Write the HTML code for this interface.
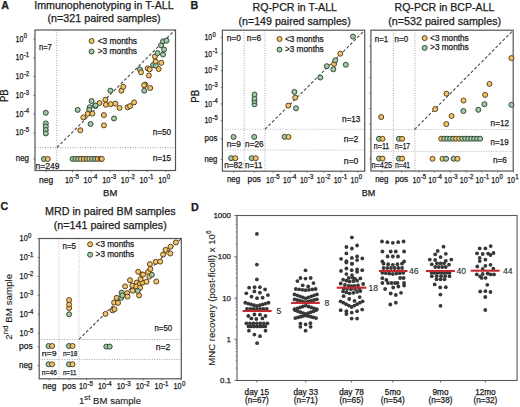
<!DOCTYPE html>
<html><head><meta charset="utf-8"><style>
html,body{margin:0;padding:0;background:#fff;}
svg{display:block;}
text{font-family:"Liberation Sans",sans-serif;fill:#1a1a1a;stroke:#1a1a1a;stroke-width:0.25px;}
</style></head><body>
<svg width="520" height="407" viewBox="0 0 520 407">
<rect width="520" height="407" fill="#fff"/>
<text x="1.30" y="8.90" font-size="10.7" font-weight="bold" fill="#000">A</text>
<text x="34.20" y="8.70" font-size="10.7" textLength="139.50" lengthAdjust="spacingAndGlyphs">Immunophenotyping in T-ALL</text>
<text x="47.50" y="22.30" font-size="10.7" textLength="113.10" lengthAdjust="spacingAndGlyphs">(n=321 paired samples)</text>
<line x1="56.80" y1="30.00" x2="56.80" y2="170.50" stroke="#999999" stroke-width="0.9" stroke-dasharray="1,1.5"/>
<line x1="35.00" y1="147.60" x2="175.50" y2="147.60" stroke="#999999" stroke-width="0.9" stroke-dasharray="1,1.5"/>
<line x1="57.00" y1="147.50" x2="175.00" y2="30.00" stroke="#4a4a4a" stroke-width="1.1" stroke-dasharray="3,2"/>
<rect x="35.00" y="30.00" width="140.50" height="140.50" fill="none" stroke="#555555" stroke-width="1.2"/>
<line x1="33.40" y1="39.10" x2="35.00" y2="39.10" stroke="#555555" stroke-width="0.8"/>
<text x="15.60" y="41.60" font-size="8.6" textLength="7.90" lengthAdjust="spacingAndGlyphs">10</text>
<text x="23.80" y="38.30" font-size="6.8" textLength="3.33" lengthAdjust="spacingAndGlyphs">0</text>
<line x1="33.40" y1="57.86" x2="35.00" y2="57.86" stroke="#555555" stroke-width="0.8"/>
<text x="15.60" y="60.36" font-size="8.6" textLength="7.90" lengthAdjust="spacingAndGlyphs">10</text>
<text x="23.80" y="57.06" font-size="6.8" textLength="5.32" lengthAdjust="spacingAndGlyphs">-1</text>
<line x1="33.40" y1="76.62" x2="35.00" y2="76.62" stroke="#555555" stroke-width="0.8"/>
<text x="15.60" y="79.12" font-size="8.6" textLength="7.90" lengthAdjust="spacingAndGlyphs">10</text>
<text x="23.80" y="75.82" font-size="6.8" textLength="5.32" lengthAdjust="spacingAndGlyphs">-2</text>
<line x1="33.40" y1="95.38" x2="35.00" y2="95.38" stroke="#555555" stroke-width="0.8"/>
<text x="15.60" y="97.88" font-size="8.6" textLength="7.90" lengthAdjust="spacingAndGlyphs">10</text>
<text x="23.80" y="94.58" font-size="6.8" textLength="5.32" lengthAdjust="spacingAndGlyphs">-3</text>
<line x1="33.40" y1="114.14" x2="35.00" y2="114.14" stroke="#555555" stroke-width="0.8"/>
<text x="15.60" y="116.64" font-size="8.6" textLength="7.90" lengthAdjust="spacingAndGlyphs">10</text>
<text x="23.80" y="113.34" font-size="6.8" textLength="5.32" lengthAdjust="spacingAndGlyphs">-4</text>
<line x1="33.40" y1="132.90" x2="35.00" y2="132.90" stroke="#555555" stroke-width="0.8"/>
<text x="15.60" y="135.40" font-size="8.6" textLength="7.90" lengthAdjust="spacingAndGlyphs">10</text>
<text x="23.80" y="132.10" font-size="6.8" textLength="5.32" lengthAdjust="spacingAndGlyphs">-5</text>
<line x1="33.40" y1="159.00" x2="35.00" y2="159.00" stroke="#555555" stroke-width="0.8"/>
<text x="15.80" y="160.70" font-size="8.6" textLength="13.20" lengthAdjust="spacingAndGlyphs">neg</text>
<line x1="72.50" y1="170.50" x2="72.50" y2="172.10" stroke="#555555" stroke-width="0.8"/>
<text x="64.90" y="182.70" font-size="8.6" textLength="8.20" lengthAdjust="spacingAndGlyphs">10</text>
<text x="73.40" y="179.30" font-size="7.0" textLength="5.48" lengthAdjust="spacingAndGlyphs">-5</text>
<line x1="91.15" y1="170.50" x2="91.15" y2="172.10" stroke="#555555" stroke-width="0.8"/>
<text x="83.55" y="182.70" font-size="8.6" textLength="8.20" lengthAdjust="spacingAndGlyphs">10</text>
<text x="92.05" y="179.30" font-size="7.0" textLength="5.48" lengthAdjust="spacingAndGlyphs">-4</text>
<line x1="109.80" y1="170.50" x2="109.80" y2="172.10" stroke="#555555" stroke-width="0.8"/>
<text x="102.20" y="182.70" font-size="8.6" textLength="8.20" lengthAdjust="spacingAndGlyphs">10</text>
<text x="110.70" y="179.30" font-size="7.0" textLength="5.48" lengthAdjust="spacingAndGlyphs">-3</text>
<line x1="128.45" y1="170.50" x2="128.45" y2="172.10" stroke="#555555" stroke-width="0.8"/>
<text x="120.85" y="182.70" font-size="8.6" textLength="8.20" lengthAdjust="spacingAndGlyphs">10</text>
<text x="129.35" y="179.30" font-size="7.0" textLength="5.48" lengthAdjust="spacingAndGlyphs">-2</text>
<line x1="147.10" y1="170.50" x2="147.10" y2="172.10" stroke="#555555" stroke-width="0.8"/>
<text x="139.50" y="182.70" font-size="8.6" textLength="8.20" lengthAdjust="spacingAndGlyphs">10</text>
<text x="148.00" y="179.30" font-size="7.0" textLength="5.48" lengthAdjust="spacingAndGlyphs">-1</text>
<line x1="165.75" y1="170.50" x2="165.75" y2="172.10" stroke="#555555" stroke-width="0.8"/>
<text x="158.15" y="182.70" font-size="8.6" textLength="8.20" lengthAdjust="spacingAndGlyphs">10</text>
<text x="166.65" y="179.30" font-size="7.0" textLength="3.43" lengthAdjust="spacingAndGlyphs">0</text>
<line x1="46.00" y1="170.50" x2="46.00" y2="172.10" stroke="#555555" stroke-width="0.8"/>
<text x="46.10" y="182.60" font-size="8.6" text-anchor="middle" textLength="14.00" lengthAdjust="spacingAndGlyphs">neg</text>
<text x="8.00" y="95.70" font-size="10.0" text-anchor="middle" textLength="12.80" lengthAdjust="spacingAndGlyphs" transform="rotate(-90 8.00 95.70)">PB</text>
<text x="110.20" y="196.20" font-size="9.5" text-anchor="middle" textLength="14.20" lengthAdjust="spacingAndGlyphs">BM</text>
<text x="39.00" y="49.60" font-size="8.6" textLength="12.80" lengthAdjust="spacingAndGlyphs">n=7</text>
<text x="35.40" y="169.30" font-size="8.6" textLength="24.00" lengthAdjust="spacingAndGlyphs">n=249</text>
<text x="152.70" y="135.10" font-size="8.6" textLength="18.50" lengthAdjust="spacingAndGlyphs">n=50</text>
<text x="152.70" y="160.90" font-size="8.6" textLength="18.50" lengthAdjust="spacingAndGlyphs">n=15</text>
<circle cx="91.60" cy="41.00" r="2.5" fill="#EEC56C" stroke="#553A16" stroke-width="0.95"/>
<circle cx="91.60" cy="51.60" r="2.5" fill="#A4C7A6" stroke="#2A4430" stroke-width="0.95"/>
<text x="97.70" y="43.60" font-size="8.6" textLength="39.30" lengthAdjust="spacingAndGlyphs">&lt;3 months</text>
<text x="97.70" y="54.20" font-size="8.6" textLength="39.30" lengthAdjust="spacingAndGlyphs">&gt;3 months</text>
<text x="190.50" y="8.90" font-size="10.7" font-weight="bold" fill="#000">B</text>
<text x="252.50" y="11.30" font-size="10.7" textLength="84.50" lengthAdjust="spacingAndGlyphs">RQ-PCR in T-ALL</text>
<text x="238.50" y="25.10" font-size="10.7" textLength="112.20" lengthAdjust="spacingAndGlyphs">(n=149 paired samples)</text>
<line x1="244.20" y1="30.20" x2="244.20" y2="171.20" stroke="#999999" stroke-width="0.9" stroke-dasharray="1,1.5"/>
<line x1="265.00" y1="30.20" x2="265.00" y2="171.20" stroke="#999999" stroke-width="0.9" stroke-dasharray="1,1.5"/>
<line x1="222.40" y1="129.30" x2="364.70" y2="129.30" stroke="#b0b0b0" stroke-width="0.9" stroke-dasharray="1,1.5"/>
<line x1="222.40" y1="150.00" x2="364.70" y2="150.00" stroke="#b0b0b0" stroke-width="0.9" stroke-dasharray="1,1.5"/>
<line x1="265.00" y1="129.30" x2="364.50" y2="30.50" stroke="#4a4a4a" stroke-width="1.1" stroke-dasharray="3,2"/>
<rect x="222.40" y="30.20" width="142.30" height="141.00" fill="none" stroke="#555555" stroke-width="1.2"/>
<line x1="220.80" y1="37.40" x2="222.40" y2="37.40" stroke="#555555" stroke-width="0.8"/>
<text x="204.50" y="39.90" font-size="8.4" textLength="7.70" lengthAdjust="spacingAndGlyphs">10</text>
<text x="212.50" y="36.60" font-size="6.6" textLength="3.23" lengthAdjust="spacingAndGlyphs">0</text>
<line x1="220.80" y1="54.05" x2="222.40" y2="54.05" stroke="#555555" stroke-width="0.8"/>
<text x="204.50" y="56.55" font-size="8.4" textLength="7.70" lengthAdjust="spacingAndGlyphs">10</text>
<text x="212.50" y="53.25" font-size="6.6" textLength="5.16" lengthAdjust="spacingAndGlyphs">-1</text>
<line x1="220.80" y1="70.70" x2="222.40" y2="70.70" stroke="#555555" stroke-width="0.8"/>
<text x="204.50" y="73.20" font-size="8.4" textLength="7.70" lengthAdjust="spacingAndGlyphs">10</text>
<text x="212.50" y="69.90" font-size="6.6" textLength="5.16" lengthAdjust="spacingAndGlyphs">-2</text>
<line x1="220.80" y1="87.35" x2="222.40" y2="87.35" stroke="#555555" stroke-width="0.8"/>
<text x="204.50" y="89.85" font-size="8.4" textLength="7.70" lengthAdjust="spacingAndGlyphs">10</text>
<text x="212.50" y="86.55" font-size="6.6" textLength="5.16" lengthAdjust="spacingAndGlyphs">-3</text>
<line x1="220.80" y1="104.00" x2="222.40" y2="104.00" stroke="#555555" stroke-width="0.8"/>
<text x="204.50" y="106.50" font-size="8.4" textLength="7.70" lengthAdjust="spacingAndGlyphs">10</text>
<text x="212.50" y="103.20" font-size="6.6" textLength="5.16" lengthAdjust="spacingAndGlyphs">-4</text>
<line x1="220.80" y1="120.65" x2="222.40" y2="120.65" stroke="#555555" stroke-width="0.8"/>
<text x="204.50" y="123.15" font-size="8.4" textLength="7.70" lengthAdjust="spacingAndGlyphs">10</text>
<text x="212.50" y="119.85" font-size="6.6" textLength="5.16" lengthAdjust="spacingAndGlyphs">-5</text>
<line x1="220.80" y1="138.80" x2="222.40" y2="138.80" stroke="#555555" stroke-width="0.8"/>
<text x="204.60" y="141.00" font-size="8.4" textLength="12.80" lengthAdjust="spacingAndGlyphs">pos</text>
<line x1="220.80" y1="159.50" x2="222.40" y2="159.50" stroke="#555555" stroke-width="0.8"/>
<text x="204.60" y="161.70" font-size="8.4" textLength="12.80" lengthAdjust="spacingAndGlyphs">neg</text>
<line x1="273.30" y1="171.20" x2="273.30" y2="172.80" stroke="#555555" stroke-width="0.8"/>
<text x="266.10" y="182.70" font-size="8.6" textLength="7.80" lengthAdjust="spacingAndGlyphs">10</text>
<text x="274.20" y="179.30" font-size="6.9" textLength="5.40" lengthAdjust="spacingAndGlyphs">-5</text>
<line x1="290.20" y1="171.20" x2="290.20" y2="172.80" stroke="#555555" stroke-width="0.8"/>
<text x="283.00" y="182.70" font-size="8.6" textLength="7.80" lengthAdjust="spacingAndGlyphs">10</text>
<text x="291.10" y="179.30" font-size="6.9" textLength="5.40" lengthAdjust="spacingAndGlyphs">-4</text>
<line x1="307.10" y1="171.20" x2="307.10" y2="172.80" stroke="#555555" stroke-width="0.8"/>
<text x="299.90" y="182.70" font-size="8.6" textLength="7.80" lengthAdjust="spacingAndGlyphs">10</text>
<text x="308.00" y="179.30" font-size="6.9" textLength="5.40" lengthAdjust="spacingAndGlyphs">-3</text>
<line x1="324.00" y1="171.20" x2="324.00" y2="172.80" stroke="#555555" stroke-width="0.8"/>
<text x="316.80" y="182.70" font-size="8.6" textLength="7.80" lengthAdjust="spacingAndGlyphs">10</text>
<text x="324.90" y="179.30" font-size="6.9" textLength="5.40" lengthAdjust="spacingAndGlyphs">-2</text>
<line x1="340.90" y1="171.20" x2="340.90" y2="172.80" stroke="#555555" stroke-width="0.8"/>
<text x="333.70" y="182.70" font-size="8.6" textLength="7.80" lengthAdjust="spacingAndGlyphs">10</text>
<text x="341.80" y="179.30" font-size="6.9" textLength="5.40" lengthAdjust="spacingAndGlyphs">-1</text>
<line x1="357.80" y1="171.20" x2="357.80" y2="172.80" stroke="#555555" stroke-width="0.8"/>
<text x="350.60" y="182.70" font-size="8.6" textLength="7.80" lengthAdjust="spacingAndGlyphs">10</text>
<text x="358.70" y="179.30" font-size="6.9" textLength="3.38" lengthAdjust="spacingAndGlyphs">0</text>
<line x1="233.50" y1="171.20" x2="233.50" y2="172.80" stroke="#555555" stroke-width="0.8"/>
<text x="233.50" y="182.00" font-size="8.4" text-anchor="middle" textLength="13.20" lengthAdjust="spacingAndGlyphs">neg</text>
<line x1="254.20" y1="171.20" x2="254.20" y2="172.80" stroke="#555555" stroke-width="0.8"/>
<text x="254.20" y="182.00" font-size="8.4" text-anchor="middle" textLength="13.20" lengthAdjust="spacingAndGlyphs">pos</text>
<text x="198.70" y="96.30" font-size="10.0" text-anchor="middle" textLength="12.80" lengthAdjust="spacingAndGlyphs" transform="rotate(-90 198.70 96.30)">PB</text>
<text x="226.70" y="40.50" font-size="8.4" textLength="14.30" lengthAdjust="spacingAndGlyphs">n=0</text>
<text x="246.80" y="40.50" font-size="8.4" textLength="14.30" lengthAdjust="spacingAndGlyphs">n=6</text>
<text x="226.70" y="146.70" font-size="8.4" textLength="14.20" lengthAdjust="spacingAndGlyphs">n=9</text>
<text x="245.10" y="146.70" font-size="8.4" textLength="18.40" lengthAdjust="spacingAndGlyphs">n=26</text>
<text x="224.20" y="168.30" font-size="8.4" textLength="18.50" lengthAdjust="spacingAndGlyphs">n=82</text>
<text x="245.10" y="168.30" font-size="8.4" textLength="17.20" lengthAdjust="spacingAndGlyphs">n=11</text>
<text x="341.90" y="121.50" font-size="8.4" textLength="18.30" lengthAdjust="spacingAndGlyphs">n=13</text>
<text x="343.80" y="142.30" font-size="8.4" textLength="14.50" lengthAdjust="spacingAndGlyphs">n=2</text>
<text x="343.80" y="163.50" font-size="8.4" textLength="14.50" lengthAdjust="spacingAndGlyphs">n=0</text>
<circle cx="279.50" cy="39.00" r="2.5" fill="#EEC56C" stroke="#553A16" stroke-width="0.95"/>
<circle cx="279.50" cy="49.60" r="2.5" fill="#A4C7A6" stroke="#2A4430" stroke-width="0.95"/>
<text x="284.90" y="41.50" font-size="8.4" textLength="38.80" lengthAdjust="spacingAndGlyphs">&lt;3 months</text>
<text x="284.90" y="52.10" font-size="8.4" textLength="38.80" lengthAdjust="spacingAndGlyphs">&gt;3 months</text>
<text x="394.50" y="10.90" font-size="10.7" textLength="99.90" lengthAdjust="spacingAndGlyphs">RQ-PCR in BCP-ALL</text>
<text x="388.30" y="24.90" font-size="10.7" textLength="112.80" lengthAdjust="spacingAndGlyphs">(n=532 paired samples)</text>
<line x1="393.30" y1="30.20" x2="393.30" y2="171.00" stroke="#999999" stroke-width="0.9" stroke-dasharray="1,1.5"/>
<line x1="414.90" y1="30.20" x2="414.90" y2="171.00" stroke="#999999" stroke-width="0.9" stroke-dasharray="1,1.5"/>
<line x1="370.90" y1="129.50" x2="513.20" y2="129.50" stroke="#b0b0b0" stroke-width="0.9" stroke-dasharray="1,1.5"/>
<line x1="370.90" y1="151.40" x2="513.20" y2="151.40" stroke="#b0b0b0" stroke-width="0.9" stroke-dasharray="1,1.5"/>
<line x1="414.50" y1="129.50" x2="513.00" y2="30.50" stroke="#4a4a4a" stroke-width="1.1" stroke-dasharray="3,2"/>
<rect x="370.90" y="30.20" width="142.30" height="140.80" fill="none" stroke="#555555" stroke-width="1.2"/>
<line x1="369.30" y1="46.20" x2="370.90" y2="46.20" stroke="#555555" stroke-width="0.8"/>
<line x1="369.30" y1="61.80" x2="370.90" y2="61.80" stroke="#555555" stroke-width="0.8"/>
<line x1="369.30" y1="77.40" x2="370.90" y2="77.40" stroke="#555555" stroke-width="0.8"/>
<line x1="369.30" y1="93.00" x2="370.90" y2="93.00" stroke="#555555" stroke-width="0.8"/>
<line x1="369.30" y1="108.60" x2="370.90" y2="108.60" stroke="#555555" stroke-width="0.8"/>
<line x1="369.30" y1="124.20" x2="370.90" y2="124.20" stroke="#555555" stroke-width="0.8"/>
<line x1="369.30" y1="138.80" x2="370.90" y2="138.80" stroke="#555555" stroke-width="0.8"/>
<line x1="369.30" y1="159.00" x2="370.90" y2="159.00" stroke="#555555" stroke-width="0.8"/>
<line x1="419.00" y1="171.00" x2="419.00" y2="172.60" stroke="#555555" stroke-width="0.8"/>
<text x="412.50" y="182.70" font-size="8.6" textLength="7.90" lengthAdjust="spacingAndGlyphs">10</text>
<text x="420.70" y="179.30" font-size="6.9" textLength="5.40" lengthAdjust="spacingAndGlyphs">-5</text>
<line x1="434.75" y1="171.00" x2="434.75" y2="172.60" stroke="#555555" stroke-width="0.8"/>
<text x="428.25" y="182.70" font-size="8.6" textLength="7.90" lengthAdjust="spacingAndGlyphs">10</text>
<text x="436.45" y="179.30" font-size="6.9" textLength="5.40" lengthAdjust="spacingAndGlyphs">-4</text>
<line x1="450.50" y1="171.00" x2="450.50" y2="172.60" stroke="#555555" stroke-width="0.8"/>
<text x="444.00" y="182.70" font-size="8.6" textLength="7.90" lengthAdjust="spacingAndGlyphs">10</text>
<text x="452.20" y="179.30" font-size="6.9" textLength="5.40" lengthAdjust="spacingAndGlyphs">-3</text>
<line x1="466.25" y1="171.00" x2="466.25" y2="172.60" stroke="#555555" stroke-width="0.8"/>
<text x="459.75" y="182.70" font-size="8.6" textLength="7.90" lengthAdjust="spacingAndGlyphs">10</text>
<text x="467.95" y="179.30" font-size="6.9" textLength="5.40" lengthAdjust="spacingAndGlyphs">-2</text>
<line x1="482.00" y1="171.00" x2="482.00" y2="172.60" stroke="#555555" stroke-width="0.8"/>
<text x="475.50" y="182.70" font-size="8.6" textLength="7.90" lengthAdjust="spacingAndGlyphs">10</text>
<text x="483.70" y="179.30" font-size="6.9" textLength="5.40" lengthAdjust="spacingAndGlyphs">-1</text>
<line x1="497.75" y1="171.00" x2="497.75" y2="172.60" stroke="#555555" stroke-width="0.8"/>
<text x="491.25" y="182.70" font-size="8.6" textLength="7.90" lengthAdjust="spacingAndGlyphs">10</text>
<text x="499.45" y="179.30" font-size="6.9" textLength="3.38" lengthAdjust="spacingAndGlyphs">0</text>
<line x1="513.50" y1="171.00" x2="513.50" y2="172.60" stroke="#555555" stroke-width="0.8"/>
<text x="507.00" y="182.70" font-size="8.6" textLength="7.90" lengthAdjust="spacingAndGlyphs">10</text>
<text x="515.20" y="179.30" font-size="6.9" textLength="3.38" lengthAdjust="spacingAndGlyphs">1</text>
<line x1="381.80" y1="171.00" x2="381.80" y2="172.60" stroke="#555555" stroke-width="0.8"/>
<text x="381.80" y="182.00" font-size="8.4" text-anchor="middle" textLength="13.20" lengthAdjust="spacingAndGlyphs">neg</text>
<line x1="401.60" y1="171.00" x2="401.60" y2="172.60" stroke="#555555" stroke-width="0.8"/>
<text x="401.60" y="182.00" font-size="8.4" text-anchor="middle" textLength="13.20" lengthAdjust="spacingAndGlyphs">pos</text>
<text x="368.50" y="196.30" font-size="9.4" text-anchor="middle" textLength="13.50" lengthAdjust="spacingAndGlyphs">BM</text>
<text x="374.80" y="42.40" font-size="8.4" textLength="13.50" lengthAdjust="spacingAndGlyphs">n=1</text>
<text x="394.60" y="42.40" font-size="8.4" textLength="13.50" lengthAdjust="spacingAndGlyphs">n=0</text>
<text x="373.80" y="149.10" font-size="8.4" textLength="15.50" lengthAdjust="spacingAndGlyphs">n=11</text>
<text x="395.00" y="149.10" font-size="8.4" textLength="15.10" lengthAdjust="spacingAndGlyphs">n=17</text>
<text x="371.50" y="168.30" font-size="8.4" textLength="20.50" lengthAdjust="spacingAndGlyphs">n=425</text>
<text x="395.00" y="168.30" font-size="8.4" textLength="15.10" lengthAdjust="spacingAndGlyphs">n=41</text>
<text x="490.60" y="125.70" font-size="8.4" textLength="18.50" lengthAdjust="spacingAndGlyphs">n=12</text>
<text x="490.60" y="144.70" font-size="8.4" textLength="18.00" lengthAdjust="spacingAndGlyphs">n=19</text>
<text x="493.10" y="162.70" font-size="8.4" textLength="13.80" lengthAdjust="spacingAndGlyphs">n=6</text>
<circle cx="424.70" cy="38.10" r="2.5" fill="#EEC56C" stroke="#553A16" stroke-width="0.95"/>
<circle cx="424.70" cy="47.90" r="2.5" fill="#A4C7A6" stroke="#2A4430" stroke-width="0.95"/>
<text x="430.10" y="40.60" font-size="8.4" textLength="38.60" lengthAdjust="spacingAndGlyphs">&lt;3 months</text>
<text x="430.10" y="50.20" font-size="8.4" textLength="38.60" lengthAdjust="spacingAndGlyphs">&gt;3 months</text>
<text x="0.50" y="210.40" font-size="10.7" font-weight="bold" fill="#000">C</text>
<text x="45.10" y="215.10" font-size="10.7" textLength="130.40" lengthAdjust="spacingAndGlyphs">MRD in paired BM samples</text>
<text x="53.70" y="228.90" font-size="10.7" textLength="113.10" lengthAdjust="spacingAndGlyphs">(n=141 paired samples)</text>
<line x1="58.90" y1="238.50" x2="58.90" y2="378.80" stroke="#b4b8c4" stroke-width="0.9" stroke-dasharray="1,1.5"/>
<line x1="78.90" y1="238.50" x2="78.90" y2="378.80" stroke="#b4b8c4" stroke-width="0.9" stroke-dasharray="1,1.5"/>
<line x1="39.20" y1="339.50" x2="181.30" y2="339.50" stroke="#999999" stroke-width="0.9" stroke-dasharray="1,1.5"/>
<line x1="39.20" y1="359.50" x2="181.30" y2="359.50" stroke="#999999" stroke-width="0.9" stroke-dasharray="1,1.5"/>
<line x1="79.00" y1="339.30" x2="181.00" y2="238.80" stroke="#4a4a4a" stroke-width="1.1" stroke-dasharray="3,2"/>
<rect x="39.20" y="238.50" width="142.10" height="140.30" fill="none" stroke="#555555" stroke-width="1.2"/>
<line x1="37.60" y1="238.60" x2="39.20" y2="238.60" stroke="#555555" stroke-width="0.8"/>
<text x="19.60" y="241.40" font-size="8.6" textLength="8.20" lengthAdjust="spacingAndGlyphs">10</text>
<text x="28.10" y="238.10" font-size="6.8" textLength="3.33" lengthAdjust="spacingAndGlyphs">0</text>
<line x1="37.60" y1="257.50" x2="39.20" y2="257.50" stroke="#555555" stroke-width="0.8"/>
<text x="19.60" y="260.30" font-size="8.6" textLength="8.20" lengthAdjust="spacingAndGlyphs">10</text>
<text x="28.10" y="257.00" font-size="6.8" textLength="5.32" lengthAdjust="spacingAndGlyphs">-1</text>
<line x1="37.60" y1="276.40" x2="39.20" y2="276.40" stroke="#555555" stroke-width="0.8"/>
<text x="19.60" y="279.20" font-size="8.6" textLength="8.20" lengthAdjust="spacingAndGlyphs">10</text>
<text x="28.10" y="275.90" font-size="6.8" textLength="5.32" lengthAdjust="spacingAndGlyphs">-2</text>
<line x1="37.60" y1="295.30" x2="39.20" y2="295.30" stroke="#555555" stroke-width="0.8"/>
<text x="19.60" y="298.10" font-size="8.6" textLength="8.20" lengthAdjust="spacingAndGlyphs">10</text>
<text x="28.10" y="294.80" font-size="6.8" textLength="5.32" lengthAdjust="spacingAndGlyphs">-3</text>
<line x1="37.60" y1="314.20" x2="39.20" y2="314.20" stroke="#555555" stroke-width="0.8"/>
<text x="19.60" y="317.00" font-size="8.6" textLength="8.20" lengthAdjust="spacingAndGlyphs">10</text>
<text x="28.10" y="313.70" font-size="6.8" textLength="5.32" lengthAdjust="spacingAndGlyphs">-4</text>
<line x1="37.60" y1="333.10" x2="39.20" y2="333.10" stroke="#555555" stroke-width="0.8"/>
<text x="19.60" y="335.90" font-size="8.6" textLength="8.20" lengthAdjust="spacingAndGlyphs">10</text>
<text x="28.10" y="332.60" font-size="6.8" textLength="5.32" lengthAdjust="spacingAndGlyphs">-5</text>
<line x1="37.60" y1="346.80" x2="39.20" y2="346.80" stroke="#555555" stroke-width="0.8"/>
<text x="19.00" y="349.00" font-size="8.6" textLength="13.60" lengthAdjust="spacingAndGlyphs">pos</text>
<line x1="37.60" y1="365.50" x2="39.20" y2="365.50" stroke="#555555" stroke-width="0.8"/>
<text x="19.00" y="367.70" font-size="8.6" textLength="13.60" lengthAdjust="spacingAndGlyphs">neg</text>
<line x1="86.50" y1="378.80" x2="86.50" y2="380.40" stroke="#555555" stroke-width="0.8"/>
<text x="79.00" y="389.30" font-size="8.6" textLength="8.10" lengthAdjust="spacingAndGlyphs">10</text>
<text x="87.40" y="385.90" font-size="7.0" textLength="5.48" lengthAdjust="spacingAndGlyphs">-5</text>
<line x1="105.40" y1="378.80" x2="105.40" y2="380.40" stroke="#555555" stroke-width="0.8"/>
<text x="97.90" y="389.30" font-size="8.6" textLength="8.10" lengthAdjust="spacingAndGlyphs">10</text>
<text x="106.30" y="385.90" font-size="7.0" textLength="5.48" lengthAdjust="spacingAndGlyphs">-4</text>
<line x1="124.30" y1="378.80" x2="124.30" y2="380.40" stroke="#555555" stroke-width="0.8"/>
<text x="116.80" y="389.30" font-size="8.6" textLength="8.10" lengthAdjust="spacingAndGlyphs">10</text>
<text x="125.20" y="385.90" font-size="7.0" textLength="5.48" lengthAdjust="spacingAndGlyphs">-3</text>
<line x1="143.20" y1="378.80" x2="143.20" y2="380.40" stroke="#555555" stroke-width="0.8"/>
<text x="135.70" y="389.30" font-size="8.6" textLength="8.10" lengthAdjust="spacingAndGlyphs">10</text>
<text x="144.10" y="385.90" font-size="7.0" textLength="5.48" lengthAdjust="spacingAndGlyphs">-2</text>
<line x1="162.10" y1="378.80" x2="162.10" y2="380.40" stroke="#555555" stroke-width="0.8"/>
<text x="154.60" y="389.30" font-size="8.6" textLength="8.10" lengthAdjust="spacingAndGlyphs">10</text>
<text x="163.00" y="385.90" font-size="7.0" textLength="5.48" lengthAdjust="spacingAndGlyphs">-1</text>
<line x1="181.00" y1="378.80" x2="181.00" y2="380.40" stroke="#555555" stroke-width="0.8"/>
<text x="173.50" y="389.30" font-size="8.6" textLength="8.10" lengthAdjust="spacingAndGlyphs">10</text>
<text x="181.90" y="385.90" font-size="7.0" textLength="3.43" lengthAdjust="spacingAndGlyphs">0</text>
<line x1="49.40" y1="378.80" x2="49.40" y2="380.40" stroke="#555555" stroke-width="0.8"/>
<text x="49.40" y="389.10" font-size="8.6" text-anchor="middle" textLength="13.50" lengthAdjust="spacingAndGlyphs">neg</text>
<line x1="69.10" y1="378.80" x2="69.10" y2="380.40" stroke="#555555" stroke-width="0.8"/>
<text x="69.10" y="389.10" font-size="8.6" text-anchor="middle" textLength="13.50" lengthAdjust="spacingAndGlyphs">pos</text>
<text transform="translate(11.9 306.7) rotate(-90)" text-anchor="middle" font-size="9.8" style="stroke-width:0.1px">2<tspan font-size="7.8" dy="-3.8">nd</tspan><tspan dy="3.8"> BM sample</tspan></text>
<text x="79.0" y="403.8" font-size="9.6" style="stroke-width:0.12px">1<tspan font-size="7.8" dy="-3.7">st</tspan><tspan dy="3.7"> BM sample</tspan></text>
<text x="62.50" y="249.10" font-size="8.6" textLength="13.50" lengthAdjust="spacingAndGlyphs">n=5</text>
<text x="41.80" y="355.60" font-size="8.0" textLength="14.70" lengthAdjust="spacingAndGlyphs">n=9</text>
<text x="62.90" y="355.60" font-size="8.0" textLength="14.40" lengthAdjust="spacingAndGlyphs">n=18</text>
<text x="41.80" y="375.00" font-size="8.0" textLength="15.10" lengthAdjust="spacingAndGlyphs">n=46</text>
<text x="62.90" y="375.00" font-size="8.0" textLength="13.60" lengthAdjust="spacingAndGlyphs">n=11</text>
<text x="154.50" y="331.00" font-size="8.6" textLength="17.60" lengthAdjust="spacingAndGlyphs">n=50</text>
<text x="155.80" y="350.00" font-size="8.6" textLength="14.50" lengthAdjust="spacingAndGlyphs">n=2</text>
<circle cx="90.10" cy="244.30" r="2.5" fill="#EEC56C" stroke="#553A16" stroke-width="0.95"/>
<circle cx="90.10" cy="254.70" r="2.5" fill="#A4C7A6" stroke="#2A4430" stroke-width="0.95"/>
<text x="95.60" y="247.00" font-size="8.4" textLength="38.60" lengthAdjust="spacingAndGlyphs">&lt;3 months</text>
<text x="95.60" y="257.00" font-size="8.4" textLength="38.60" lengthAdjust="spacingAndGlyphs">&gt;3 months</text>
<text x="191.10" y="210.60" font-size="10.8" font-weight="bold" fill="#000">D</text>
<rect x="237.00" y="215.50" width="280.10" height="165.00" fill="none" stroke="#5a5a5a" stroke-width="1.1"/>
<line x1="234.40" y1="380.50" x2="237.00" y2="380.50" stroke="#5a5a5a" stroke-width="0.9"/>
<line x1="235.60" y1="368.08" x2="237.00" y2="368.08" stroke="#5a5a5a" stroke-width="0.7"/>
<line x1="235.60" y1="360.82" x2="237.00" y2="360.82" stroke="#5a5a5a" stroke-width="0.7"/>
<line x1="235.60" y1="355.67" x2="237.00" y2="355.67" stroke="#5a5a5a" stroke-width="0.7"/>
<line x1="235.60" y1="351.67" x2="237.00" y2="351.67" stroke="#5a5a5a" stroke-width="0.7"/>
<line x1="235.60" y1="348.40" x2="237.00" y2="348.40" stroke="#5a5a5a" stroke-width="0.7"/>
<line x1="235.60" y1="345.64" x2="237.00" y2="345.64" stroke="#5a5a5a" stroke-width="0.7"/>
<line x1="235.60" y1="343.25" x2="237.00" y2="343.25" stroke="#5a5a5a" stroke-width="0.7"/>
<line x1="235.60" y1="341.14" x2="237.00" y2="341.14" stroke="#5a5a5a" stroke-width="0.7"/>
<line x1="234.40" y1="339.25" x2="237.00" y2="339.25" stroke="#5a5a5a" stroke-width="0.9"/>
<line x1="235.60" y1="326.83" x2="237.00" y2="326.83" stroke="#5a5a5a" stroke-width="0.7"/>
<line x1="235.60" y1="319.57" x2="237.00" y2="319.57" stroke="#5a5a5a" stroke-width="0.7"/>
<line x1="235.60" y1="314.42" x2="237.00" y2="314.42" stroke="#5a5a5a" stroke-width="0.7"/>
<line x1="235.60" y1="310.42" x2="237.00" y2="310.42" stroke="#5a5a5a" stroke-width="0.7"/>
<line x1="235.60" y1="307.15" x2="237.00" y2="307.15" stroke="#5a5a5a" stroke-width="0.7"/>
<line x1="235.60" y1="304.39" x2="237.00" y2="304.39" stroke="#5a5a5a" stroke-width="0.7"/>
<line x1="235.60" y1="302.00" x2="237.00" y2="302.00" stroke="#5a5a5a" stroke-width="0.7"/>
<line x1="235.60" y1="299.89" x2="237.00" y2="299.89" stroke="#5a5a5a" stroke-width="0.7"/>
<line x1="234.40" y1="298.00" x2="237.00" y2="298.00" stroke="#5a5a5a" stroke-width="0.9"/>
<line x1="235.60" y1="285.58" x2="237.00" y2="285.58" stroke="#5a5a5a" stroke-width="0.7"/>
<line x1="235.60" y1="278.32" x2="237.00" y2="278.32" stroke="#5a5a5a" stroke-width="0.7"/>
<line x1="235.60" y1="273.17" x2="237.00" y2="273.17" stroke="#5a5a5a" stroke-width="0.7"/>
<line x1="235.60" y1="269.17" x2="237.00" y2="269.17" stroke="#5a5a5a" stroke-width="0.7"/>
<line x1="235.60" y1="265.90" x2="237.00" y2="265.90" stroke="#5a5a5a" stroke-width="0.7"/>
<line x1="235.60" y1="263.14" x2="237.00" y2="263.14" stroke="#5a5a5a" stroke-width="0.7"/>
<line x1="235.60" y1="260.75" x2="237.00" y2="260.75" stroke="#5a5a5a" stroke-width="0.7"/>
<line x1="235.60" y1="258.64" x2="237.00" y2="258.64" stroke="#5a5a5a" stroke-width="0.7"/>
<line x1="234.40" y1="256.75" x2="237.00" y2="256.75" stroke="#5a5a5a" stroke-width="0.9"/>
<line x1="235.60" y1="244.33" x2="237.00" y2="244.33" stroke="#5a5a5a" stroke-width="0.7"/>
<line x1="235.60" y1="237.07" x2="237.00" y2="237.07" stroke="#5a5a5a" stroke-width="0.7"/>
<line x1="235.60" y1="231.92" x2="237.00" y2="231.92" stroke="#5a5a5a" stroke-width="0.7"/>
<line x1="235.60" y1="227.92" x2="237.00" y2="227.92" stroke="#5a5a5a" stroke-width="0.7"/>
<line x1="235.60" y1="224.65" x2="237.00" y2="224.65" stroke="#5a5a5a" stroke-width="0.7"/>
<line x1="235.60" y1="221.89" x2="237.00" y2="221.89" stroke="#5a5a5a" stroke-width="0.7"/>
<line x1="235.60" y1="219.50" x2="237.00" y2="219.50" stroke="#5a5a5a" stroke-width="0.7"/>
<line x1="235.60" y1="217.39" x2="237.00" y2="217.39" stroke="#5a5a5a" stroke-width="0.7"/>
<line x1="234.40" y1="215.50" x2="237.00" y2="215.50" stroke="#5a5a5a" stroke-width="0.9"/>
<text x="231.00" y="218.20" font-size="7.9" text-anchor="end">1000</text>
<text x="231.00" y="259.45" font-size="7.9" text-anchor="end">100</text>
<text x="231.00" y="300.70" font-size="7.9" text-anchor="end">10</text>
<text x="231.00" y="341.95" font-size="7.9" text-anchor="end">1</text>
<text x="231.00" y="383.20" font-size="7.9" text-anchor="end">0.1</text>
<text transform="translate(214.6 298.1) rotate(-90)" text-anchor="middle" font-size="9.6" style="stroke-width:0.1px">MNC recovery (post-ficoll) x 10<tspan font-size="6.4" dy="-3.6">6</tspan></text>
<line x1="256.90" y1="380.50" x2="256.90" y2="382.50" stroke="#5a5a5a" stroke-width="0.9"/>
<text x="256.90" y="394.50" font-size="8.2" text-anchor="middle">day 15</text>
<text x="256.90" y="402.60" font-size="8.2" text-anchor="middle">(n=67)</text>
<line x1="305.70" y1="380.50" x2="305.70" y2="382.50" stroke="#5a5a5a" stroke-width="0.9"/>
<text x="305.70" y="394.50" font-size="8.2" text-anchor="middle">day 33</text>
<text x="305.70" y="402.60" font-size="8.2" text-anchor="middle">(n=71)</text>
<line x1="351.50" y1="380.50" x2="351.50" y2="382.50" stroke="#5a5a5a" stroke-width="0.9"/>
<text x="351.50" y="394.50" font-size="8.2" text-anchor="middle">day 78</text>
<text x="351.50" y="402.60" font-size="8.2" text-anchor="middle">(n=65)</text>
<line x1="392.80" y1="380.50" x2="392.80" y2="382.50" stroke="#5a5a5a" stroke-width="0.9"/>
<text x="392.80" y="394.50" font-size="8.2" text-anchor="middle">5mo</text>
<text x="392.80" y="402.60" font-size="8.2" text-anchor="middle">(n=54)</text>
<line x1="440.50" y1="380.50" x2="440.50" y2="382.50" stroke="#5a5a5a" stroke-width="0.9"/>
<text x="440.50" y="394.50" font-size="8.2" text-anchor="middle">9mo</text>
<text x="440.50" y="402.60" font-size="8.2" text-anchor="middle">(n=38)</text>
<line x1="485.40" y1="380.50" x2="485.40" y2="382.50" stroke="#5a5a5a" stroke-width="0.9"/>
<text x="485.40" y="394.50" font-size="8.2" text-anchor="middle">12mo</text>
<text x="485.40" y="402.60" font-size="8.2" text-anchor="middle">(n=32)</text>
<circle cx="45.80" cy="112.80" r="2.5" fill="#A4C7A6" stroke="#2A4430" stroke-width="0.95"/>
<circle cx="45.80" cy="123.40" r="2.5" fill="#A4C7A6" stroke="#2A4430" stroke-width="0.95"/>
<circle cx="45.80" cy="126.50" r="2.5" fill="#A4C7A6" stroke="#2A4430" stroke-width="0.95"/>
<circle cx="45.80" cy="130.00" r="2.5" fill="#A4C7A6" stroke="#2A4430" stroke-width="0.95"/>
<circle cx="45.80" cy="133.40" r="2.5" fill="#A4C7A6" stroke="#2A4430" stroke-width="0.95"/>
<circle cx="43.90" cy="159.00" r="2.5" fill="#A4C7A6" stroke="#2A4430" stroke-width="0.95"/>
<circle cx="47.80" cy="159.00" r="2.5" fill="#EEC56C" stroke="#553A16" stroke-width="0.95"/>
<circle cx="72.60" cy="158.90" r="2.5" fill="#A4C7A6" stroke="#2A4430" stroke-width="0.95"/>
<circle cx="75.40" cy="158.90" r="2.5" fill="#A4C7A6" stroke="#2A4430" stroke-width="0.95"/>
<circle cx="78.20" cy="158.90" r="2.5" fill="#A4C7A6" stroke="#2A4430" stroke-width="0.95"/>
<circle cx="81.00" cy="158.90" r="2.5" fill="#EEC56C" stroke="#553A16" stroke-width="0.95"/>
<circle cx="83.80" cy="158.90" r="2.5" fill="#EEC56C" stroke="#553A16" stroke-width="0.95"/>
<circle cx="86.60" cy="158.90" r="2.5" fill="#A4C7A6" stroke="#2A4430" stroke-width="0.95"/>
<circle cx="89.40" cy="158.90" r="2.5" fill="#EEC56C" stroke="#553A16" stroke-width="0.95"/>
<circle cx="92.20" cy="158.90" r="2.5" fill="#A4C7A6" stroke="#2A4430" stroke-width="0.95"/>
<circle cx="95.00" cy="158.90" r="2.5" fill="#A4C7A6" stroke="#2A4430" stroke-width="0.95"/>
<circle cx="97.80" cy="158.90" r="2.5" fill="#EEC56C" stroke="#553A16" stroke-width="0.95"/>
<circle cx="100.60" cy="158.90" r="2.5" fill="#EEC56C" stroke="#553A16" stroke-width="0.95"/>
<circle cx="101.80" cy="158.90" r="2.5" fill="#EEC56C" stroke="#553A16" stroke-width="0.95"/>
<circle cx="77.70" cy="109.90" r="2.5" fill="#A4C7A6" stroke="#2A4430" stroke-width="0.95"/>
<circle cx="91.60" cy="101.00" r="2.5" fill="#A4C7A6" stroke="#2A4430" stroke-width="0.95"/>
<circle cx="95.10" cy="105.80" r="2.5" fill="#A4C7A6" stroke="#2A4430" stroke-width="0.95"/>
<circle cx="89.70" cy="107.20" r="2.5" fill="#A4C7A6" stroke="#2A4430" stroke-width="0.95"/>
<circle cx="89.20" cy="109.90" r="2.5" fill="#A4C7A6" stroke="#2A4430" stroke-width="0.95"/>
<circle cx="99.50" cy="103.00" r="2.5" fill="#EEC56C" stroke="#553A16" stroke-width="0.95"/>
<circle cx="105.40" cy="99.70" r="2.5" fill="#EEC56C" stroke="#553A16" stroke-width="0.95"/>
<circle cx="105.90" cy="104.80" r="2.5" fill="#EEC56C" stroke="#553A16" stroke-width="0.95"/>
<circle cx="110.70" cy="104.20" r="2.5" fill="#EEC56C" stroke="#553A16" stroke-width="0.95"/>
<circle cx="115.30" cy="103.60" r="2.5" fill="#EEC56C" stroke="#553A16" stroke-width="0.95"/>
<circle cx="119.60" cy="107.90" r="2.5" fill="#EEC56C" stroke="#553A16" stroke-width="0.95"/>
<circle cx="127.60" cy="107.30" r="2.5" fill="#EEC56C" stroke="#553A16" stroke-width="0.95"/>
<circle cx="130.00" cy="106.10" r="2.5" fill="#EEC56C" stroke="#553A16" stroke-width="0.95"/>
<circle cx="134.10" cy="102.40" r="2.5" fill="#EEC56C" stroke="#553A16" stroke-width="0.95"/>
<circle cx="87.70" cy="113.80" r="2.5" fill="#EEC56C" stroke="#553A16" stroke-width="0.95"/>
<circle cx="92.40" cy="113.60" r="2.5" fill="#EEC56C" stroke="#553A16" stroke-width="0.95"/>
<circle cx="83.30" cy="117.40" r="2.5" fill="#EEC56C" stroke="#553A16" stroke-width="0.95"/>
<circle cx="103.90" cy="115.10" r="2.5" fill="#EEC56C" stroke="#553A16" stroke-width="0.95"/>
<circle cx="90.60" cy="124.00" r="2.5" fill="#A4C7A6" stroke="#2A4430" stroke-width="0.95"/>
<circle cx="103.90" cy="125.40" r="2.5" fill="#EEC56C" stroke="#553A16" stroke-width="0.95"/>
<circle cx="80.30" cy="130.30" r="2.5" fill="#EEC56C" stroke="#553A16" stroke-width="0.95"/>
<circle cx="114.00" cy="118.50" r="2.5" fill="#A4C7A6" stroke="#2A4430" stroke-width="0.95"/>
<circle cx="95.60" cy="105.50" r="2.5" fill="#A4C7A6" stroke="#2A4430" stroke-width="0.95"/>
<circle cx="110.40" cy="90.70" r="2.5" fill="#A4C7A6" stroke="#2A4430" stroke-width="0.95"/>
<circle cx="121.40" cy="90.70" r="2.5" fill="#EEC56C" stroke="#553A16" stroke-width="0.95"/>
<circle cx="123.30" cy="86.80" r="2.5" fill="#EEC56C" stroke="#553A16" stroke-width="0.95"/>
<circle cx="139.80" cy="69.30" r="2.5" fill="#A4C7A6" stroke="#2A4430" stroke-width="0.95"/>
<circle cx="141.00" cy="72.30" r="2.5" fill="#EEC56C" stroke="#553A16" stroke-width="0.95"/>
<circle cx="147.70" cy="68.40" r="2.5" fill="#EEC56C" stroke="#553A16" stroke-width="0.95"/>
<circle cx="149.70" cy="69.30" r="2.5" fill="#EEC56C" stroke="#553A16" stroke-width="0.95"/>
<circle cx="148.90" cy="75.50" r="2.5" fill="#EEC56C" stroke="#553A16" stroke-width="0.95"/>
<circle cx="145.20" cy="84.60" r="2.5" fill="#EEC56C" stroke="#553A16" stroke-width="0.95"/>
<circle cx="150.20" cy="88.00" r="2.5" fill="#EEC56C" stroke="#553A16" stroke-width="0.95"/>
<circle cx="144.30" cy="90.70" r="2.5" fill="#A4C7A6" stroke="#2A4430" stroke-width="0.95"/>
<circle cx="144.10" cy="85.20" r="2.5" fill="#EEC56C" stroke="#553A16" stroke-width="0.95"/>
<circle cx="153.10" cy="65.10" r="2.5" fill="#A4C7A6" stroke="#2A4430" stroke-width="0.95"/>
<circle cx="155.90" cy="65.60" r="2.5" fill="#A4C7A6" stroke="#2A4430" stroke-width="0.95"/>
<circle cx="155.60" cy="61.50" r="2.5" fill="#EEC56C" stroke="#553A16" stroke-width="0.95"/>
<circle cx="161.30" cy="62.80" r="2.5" fill="#EEC56C" stroke="#553A16" stroke-width="0.95"/>
<circle cx="158.70" cy="69.00" r="2.5" fill="#EEC56C" stroke="#553A16" stroke-width="0.95"/>
<circle cx="154.90" cy="56.60" r="2.5" fill="#EEC56C" stroke="#553A16" stroke-width="0.95"/>
<circle cx="157.60" cy="53.10" r="2.5" fill="#A4C7A6" stroke="#2A4430" stroke-width="0.95"/>
<circle cx="163.00" cy="54.60" r="2.5" fill="#A4C7A6" stroke="#2A4430" stroke-width="0.95"/>
<circle cx="164.00" cy="49.50" r="2.5" fill="#A4C7A6" stroke="#2A4430" stroke-width="0.95"/>
<circle cx="161.10" cy="45.30" r="2.5" fill="#A4C7A6" stroke="#2A4430" stroke-width="0.95"/>
<circle cx="163.00" cy="41.30" r="2.5" fill="#A4C7A6" stroke="#2A4430" stroke-width="0.95"/>
<circle cx="166.50" cy="40.70" r="2.5" fill="#A4C7A6" stroke="#2A4430" stroke-width="0.95"/>
<circle cx="233.60" cy="136.90" r="2.5" fill="#A4C7A6" stroke="#2A4430" stroke-width="0.95"/>
<circle cx="254.20" cy="136.90" r="2.5" fill="#A4C7A6" stroke="#2A4430" stroke-width="0.95"/>
<circle cx="231.10" cy="158.20" r="2.5" fill="#A4C7A6" stroke="#2A4430" stroke-width="0.95"/>
<circle cx="235.30" cy="158.20" r="2.5" fill="#EEC56C" stroke="#553A16" stroke-width="0.95"/>
<circle cx="251.70" cy="158.20" r="2.5" fill="#A4C7A6" stroke="#2A4430" stroke-width="0.95"/>
<circle cx="255.70" cy="158.20" r="2.5" fill="#EEC56C" stroke="#553A16" stroke-width="0.95"/>
<circle cx="254.50" cy="104.30" r="2.5" fill="#A4C7A6" stroke="#2A4430" stroke-width="0.95"/>
<circle cx="254.50" cy="101.10" r="2.5" fill="#A4C7A6" stroke="#2A4430" stroke-width="0.95"/>
<circle cx="254.50" cy="98.40" r="2.5" fill="#A4C7A6" stroke="#2A4430" stroke-width="0.95"/>
<circle cx="254.50" cy="94.50" r="2.5" fill="#A4C7A6" stroke="#2A4430" stroke-width="0.95"/>
<circle cx="284.60" cy="136.90" r="2.5" fill="#A4C7A6" stroke="#2A4430" stroke-width="0.95"/>
<circle cx="288.50" cy="136.90" r="2.5" fill="#EEC56C" stroke="#553A16" stroke-width="0.95"/>
<circle cx="353.00" cy="36.60" r="2.5" fill="#A4C7A6" stroke="#2A4430" stroke-width="0.95"/>
<circle cx="340.30" cy="53.70" r="2.5" fill="#EEC56C" stroke="#553A16" stroke-width="0.95"/>
<circle cx="345.80" cy="64.80" r="2.5" fill="#A4C7A6" stroke="#2A4430" stroke-width="0.95"/>
<circle cx="326.80" cy="66.20" r="2.5" fill="#A4C7A6" stroke="#2A4430" stroke-width="0.95"/>
<circle cx="333.30" cy="69.30" r="2.5" fill="#A4C7A6" stroke="#2A4430" stroke-width="0.95"/>
<circle cx="334.10" cy="63.90" r="2.5" fill="#EEC56C" stroke="#553A16" stroke-width="0.95"/>
<circle cx="335.30" cy="60.30" r="2.5" fill="#A4C7A6" stroke="#2A4430" stroke-width="0.95"/>
<circle cx="320.30" cy="77.50" r="2.5" fill="#A4C7A6" stroke="#2A4430" stroke-width="0.95"/>
<circle cx="294.40" cy="91.90" r="2.5" fill="#A4C7A6" stroke="#2A4430" stroke-width="0.95"/>
<circle cx="295.20" cy="97.60" r="2.5" fill="#EEC56C" stroke="#553A16" stroke-width="0.95"/>
<circle cx="288.30" cy="105.60" r="2.5" fill="#EEC56C" stroke="#553A16" stroke-width="0.95"/>
<circle cx="296.00" cy="108.30" r="2.5" fill="#A4C7A6" stroke="#2A4430" stroke-width="0.95"/>
<circle cx="381.20" cy="117.00" r="2.5" fill="#EEC56C" stroke="#553A16" stroke-width="0.95"/>
<circle cx="379.00" cy="138.80" r="2.5" fill="#A4C7A6" stroke="#2A4430" stroke-width="0.95"/>
<circle cx="382.50" cy="138.80" r="2.5" fill="#EEC56C" stroke="#553A16" stroke-width="0.95"/>
<circle cx="398.90" cy="138.80" r="2.5" fill="#A4C7A6" stroke="#2A4430" stroke-width="0.95"/>
<circle cx="402.10" cy="138.80" r="2.5" fill="#EEC56C" stroke="#553A16" stroke-width="0.95"/>
<circle cx="379.00" cy="158.60" r="2.5" fill="#A4C7A6" stroke="#2A4430" stroke-width="0.95"/>
<circle cx="382.50" cy="158.60" r="2.5" fill="#EEC56C" stroke="#553A16" stroke-width="0.95"/>
<circle cx="398.90" cy="158.60" r="2.5" fill="#A4C7A6" stroke="#2A4430" stroke-width="0.95"/>
<circle cx="402.10" cy="158.60" r="2.5" fill="#EEC56C" stroke="#553A16" stroke-width="0.95"/>
<circle cx="511.40" cy="58.10" r="2.5" fill="#EEC56C" stroke="#553A16" stroke-width="0.95"/>
<circle cx="489.50" cy="83.90" r="2.5" fill="#EEC56C" stroke="#553A16" stroke-width="0.95"/>
<circle cx="446.50" cy="93.70" r="2.5" fill="#EEC56C" stroke="#553A16" stroke-width="0.95"/>
<circle cx="485.10" cy="94.90" r="2.5" fill="#EEC56C" stroke="#553A16" stroke-width="0.95"/>
<circle cx="463.50" cy="100.50" r="2.5" fill="#EEC56C" stroke="#553A16" stroke-width="0.95"/>
<circle cx="484.40" cy="104.20" r="2.5" fill="#A4C7A6" stroke="#2A4430" stroke-width="0.95"/>
<circle cx="511.40" cy="104.80" r="2.5" fill="#A4C7A6" stroke="#2A4430" stroke-width="0.95"/>
<circle cx="478.30" cy="109.80" r="2.5" fill="#A4C7A6" stroke="#2A4430" stroke-width="0.95"/>
<circle cx="463.40" cy="111.00" r="2.5" fill="#A4C7A6" stroke="#2A4430" stroke-width="0.95"/>
<circle cx="435.20" cy="109.10" r="2.5" fill="#EEC56C" stroke="#553A16" stroke-width="0.95"/>
<circle cx="451.60" cy="116.00" r="2.5" fill="#EEC56C" stroke="#553A16" stroke-width="0.95"/>
<circle cx="446.30" cy="124.10" r="2.5" fill="#EEC56C" stroke="#553A16" stroke-width="0.95"/>
<circle cx="432.50" cy="158.80" r="2.5" fill="#EEC56C" stroke="#553A16" stroke-width="0.95"/>
<circle cx="442.50" cy="158.80" r="2.5" fill="#EEC56C" stroke="#553A16" stroke-width="0.95"/>
<circle cx="446.10" cy="158.80" r="2.5" fill="#A4C7A6" stroke="#2A4430" stroke-width="0.95"/>
<circle cx="453.60" cy="158.80" r="2.5" fill="#A4C7A6" stroke="#2A4430" stroke-width="0.95"/>
<circle cx="457.50" cy="158.80" r="2.5" fill="#EEC56C" stroke="#553A16" stroke-width="0.95"/>
<circle cx="441.20" cy="138.70" r="2.5" fill="#EEC56C" stroke="#553A16" stroke-width="0.95"/>
<circle cx="444.20" cy="138.70" r="2.5" fill="#A4C7A6" stroke="#2A4430" stroke-width="0.95"/>
<circle cx="447.20" cy="138.70" r="2.5" fill="#A4C7A6" stroke="#2A4430" stroke-width="0.95"/>
<circle cx="450.20" cy="138.70" r="2.5" fill="#A4C7A6" stroke="#2A4430" stroke-width="0.95"/>
<circle cx="453.20" cy="138.70" r="2.5" fill="#A4C7A6" stroke="#2A4430" stroke-width="0.95"/>
<circle cx="456.20" cy="138.70" r="2.5" fill="#EEC56C" stroke="#553A16" stroke-width="0.95"/>
<circle cx="459.20" cy="138.70" r="2.5" fill="#EEC56C" stroke="#553A16" stroke-width="0.95"/>
<circle cx="462.20" cy="138.70" r="2.5" fill="#A4C7A6" stroke="#2A4430" stroke-width="0.95"/>
<circle cx="465.20" cy="138.70" r="2.5" fill="#A4C7A6" stroke="#2A4430" stroke-width="0.95"/>
<circle cx="468.20" cy="138.70" r="2.5" fill="#A4C7A6" stroke="#2A4430" stroke-width="0.95"/>
<circle cx="471.20" cy="138.70" r="2.5" fill="#A4C7A6" stroke="#2A4430" stroke-width="0.95"/>
<circle cx="474.20" cy="138.70" r="2.5" fill="#A4C7A6" stroke="#2A4430" stroke-width="0.95"/>
<circle cx="477.20" cy="138.70" r="2.5" fill="#A4C7A6" stroke="#2A4430" stroke-width="0.95"/>
<circle cx="480.20" cy="138.70" r="2.5" fill="#A4C7A6" stroke="#2A4430" stroke-width="0.95"/>
<circle cx="48.50" cy="346.00" r="2.5" fill="#A4C7A6" stroke="#2A4430" stroke-width="0.95"/>
<circle cx="52.10" cy="346.00" r="2.5" fill="#EEC56C" stroke="#553A16" stroke-width="0.95"/>
<circle cx="69.00" cy="346.00" r="2.5" fill="#A4C7A6" stroke="#2A4430" stroke-width="0.95"/>
<circle cx="72.50" cy="346.00" r="2.5" fill="#EEC56C" stroke="#553A16" stroke-width="0.95"/>
<circle cx="48.50" cy="364.30" r="2.5" fill="#A4C7A6" stroke="#2A4430" stroke-width="0.95"/>
<circle cx="52.10" cy="364.30" r="2.5" fill="#EEC56C" stroke="#553A16" stroke-width="0.95"/>
<circle cx="69.00" cy="364.30" r="2.5" fill="#A4C7A6" stroke="#2A4430" stroke-width="0.95"/>
<circle cx="72.50" cy="364.30" r="2.5" fill="#EEC56C" stroke="#553A16" stroke-width="0.95"/>
<circle cx="69.10" cy="314.30" r="2.5" fill="#A4C7A6" stroke="#2A4430" stroke-width="0.95"/>
<circle cx="69.10" cy="308.00" r="2.5" fill="#EEC56C" stroke="#553A16" stroke-width="0.95"/>
<circle cx="69.10" cy="304.40" r="2.5" fill="#EEC56C" stroke="#553A16" stroke-width="0.95"/>
<circle cx="69.10" cy="300.10" r="2.5" fill="#EEC56C" stroke="#553A16" stroke-width="0.95"/>
<circle cx="106.30" cy="346.60" r="2.5" fill="#A4C7A6" stroke="#2A4430" stroke-width="0.95"/>
<circle cx="109.70" cy="346.60" r="2.5" fill="#A4C7A6" stroke="#2A4430" stroke-width="0.95"/>
<circle cx="105.50" cy="313.90" r="2.5" fill="#EEC56C" stroke="#553A16" stroke-width="0.95"/>
<circle cx="112.50" cy="310.40" r="2.5" fill="#EEC56C" stroke="#553A16" stroke-width="0.95"/>
<circle cx="114.50" cy="309.20" r="2.5" fill="#EEC56C" stroke="#553A16" stroke-width="0.95"/>
<circle cx="114.10" cy="302.50" r="2.5" fill="#EEC56C" stroke="#553A16" stroke-width="0.95"/>
<circle cx="118.00" cy="302.90" r="2.5" fill="#EEC56C" stroke="#553A16" stroke-width="0.95"/>
<circle cx="116.70" cy="297.80" r="2.5" fill="#EEC56C" stroke="#553A16" stroke-width="0.95"/>
<circle cx="121.20" cy="297.80" r="2.5" fill="#A4C7A6" stroke="#2A4430" stroke-width="0.95"/>
<circle cx="121.60" cy="292.70" r="2.5" fill="#A4C7A6" stroke="#2A4430" stroke-width="0.95"/>
<circle cx="122.40" cy="295.40" r="2.5" fill="#A4C7A6" stroke="#2A4430" stroke-width="0.95"/>
<circle cx="127.10" cy="293.10" r="2.5" fill="#EEC56C" stroke="#553A16" stroke-width="0.95"/>
<circle cx="127.50" cy="296.60" r="2.5" fill="#EEC56C" stroke="#553A16" stroke-width="0.95"/>
<circle cx="125.10" cy="286.40" r="2.5" fill="#EEC56C" stroke="#553A16" stroke-width="0.95"/>
<circle cx="130.00" cy="280.20" r="2.5" fill="#EEC56C" stroke="#553A16" stroke-width="0.95"/>
<circle cx="136.70" cy="282.60" r="2.5" fill="#EEC56C" stroke="#553A16" stroke-width="0.95"/>
<circle cx="139.80" cy="284.10" r="2.5" fill="#EEC56C" stroke="#553A16" stroke-width="0.95"/>
<circle cx="142.60" cy="282.60" r="2.5" fill="#EEC56C" stroke="#553A16" stroke-width="0.95"/>
<circle cx="132.30" cy="285.60" r="2.5" fill="#EEC56C" stroke="#553A16" stroke-width="0.95"/>
<circle cx="136.20" cy="286.60" r="2.5" fill="#EEC56C" stroke="#553A16" stroke-width="0.95"/>
<circle cx="140.10" cy="287.80" r="2.5" fill="#EEC56C" stroke="#553A16" stroke-width="0.95"/>
<circle cx="132.70" cy="290.70" r="2.5" fill="#EEC56C" stroke="#553A16" stroke-width="0.95"/>
<circle cx="137.70" cy="291.00" r="2.5" fill="#A4C7A6" stroke="#2A4430" stroke-width="0.95"/>
<circle cx="139.10" cy="295.40" r="2.5" fill="#EEC56C" stroke="#553A16" stroke-width="0.95"/>
<circle cx="140.60" cy="279.20" r="2.5" fill="#EEC56C" stroke="#553A16" stroke-width="0.95"/>
<circle cx="146.50" cy="281.70" r="2.5" fill="#EEC56C" stroke="#553A16" stroke-width="0.95"/>
<circle cx="156.30" cy="281.50" r="2.5" fill="#EEC56C" stroke="#553A16" stroke-width="0.95"/>
<circle cx="138.20" cy="271.80" r="2.5" fill="#EEC56C" stroke="#553A16" stroke-width="0.95"/>
<circle cx="142.10" cy="274.60" r="2.5" fill="#EEC56C" stroke="#553A16" stroke-width="0.95"/>
<circle cx="149.30" cy="276.60" r="2.5" fill="#EEC56C" stroke="#553A16" stroke-width="0.95"/>
<circle cx="151.90" cy="274.80" r="2.5" fill="#A4C7A6" stroke="#2A4430" stroke-width="0.95"/>
<circle cx="143.00" cy="274.60" r="2.5" fill="#EEC56C" stroke="#553A16" stroke-width="0.95"/>
<circle cx="148.10" cy="271.90" r="2.5" fill="#EEC56C" stroke="#553A16" stroke-width="0.95"/>
<circle cx="150.40" cy="269.00" r="2.5" fill="#EEC56C" stroke="#553A16" stroke-width="0.95"/>
<circle cx="149.90" cy="264.10" r="2.5" fill="#EEC56C" stroke="#553A16" stroke-width="0.95"/>
<circle cx="155.80" cy="261.80" r="2.5" fill="#EEC56C" stroke="#553A16" stroke-width="0.95"/>
<circle cx="160.20" cy="261.60" r="2.5" fill="#EEC56C" stroke="#553A16" stroke-width="0.95"/>
<circle cx="163.10" cy="254.50" r="2.5" fill="#EEC56C" stroke="#553A16" stroke-width="0.95"/>
<circle cx="170.30" cy="253.50" r="2.5" fill="#EEC56C" stroke="#553A16" stroke-width="0.95"/>
<circle cx="165.60" cy="249.80" r="2.5" fill="#EEC56C" stroke="#553A16" stroke-width="0.95"/>
<circle cx="170.50" cy="246.70" r="2.5" fill="#EEC56C" stroke="#553A16" stroke-width="0.95"/>
<circle cx="175.90" cy="242.40" r="2.5" fill="#EEC56C" stroke="#553A16" stroke-width="0.95"/>
<circle cx="256.90" cy="233.90" r="1.9" fill="#383838"/>
<circle cx="256.90" cy="264.60" r="1.9" fill="#383838"/>
<circle cx="256.90" cy="279.40" r="1.9" fill="#383838"/>
<circle cx="249.10" cy="287.70" r="1.9" fill="#383838"/>
<circle cx="254.60" cy="287.20" r="1.9" fill="#383838"/>
<circle cx="259.90" cy="287.20" r="1.9" fill="#383838"/>
<circle cx="265.10" cy="289.40" r="1.9" fill="#383838"/>
<circle cx="246.30" cy="293.30" r="1.9" fill="#383838"/>
<circle cx="254.40" cy="291.40" r="1.9" fill="#383838"/>
<circle cx="259.90" cy="292.70" r="1.9" fill="#383838"/>
<circle cx="267.90" cy="295.10" r="1.9" fill="#383838"/>
<circle cx="251.50" cy="296.60" r="1.9" fill="#383838"/>
<circle cx="257.00" cy="298.20" r="1.9" fill="#383838"/>
<circle cx="262.60" cy="297.70" r="1.9" fill="#383838"/>
<circle cx="245.30" cy="302.75" r="1.9" fill="#383838"/>
<circle cx="248.20" cy="303.56" r="1.9" fill="#383838"/>
<circle cx="251.10" cy="304.38" r="1.9" fill="#383838"/>
<circle cx="254.00" cy="305.19" r="1.9" fill="#383838"/>
<circle cx="256.90" cy="306.00" r="1.9" fill="#383838"/>
<circle cx="259.80" cy="305.19" r="1.9" fill="#383838"/>
<circle cx="262.70" cy="304.38" r="1.9" fill="#383838"/>
<circle cx="265.60" cy="303.56" r="1.9" fill="#383838"/>
<circle cx="268.50" cy="302.75" r="1.9" fill="#383838"/>
<circle cx="247.00" cy="308.80" r="1.9" fill="#383838"/>
<circle cx="250.30" cy="308.80" r="1.9" fill="#383838"/>
<circle cx="253.60" cy="308.80" r="1.9" fill="#383838"/>
<circle cx="256.90" cy="308.80" r="1.9" fill="#383838"/>
<circle cx="260.20" cy="308.80" r="1.9" fill="#383838"/>
<circle cx="263.50" cy="308.80" r="1.9" fill="#383838"/>
<circle cx="266.80" cy="308.80" r="1.9" fill="#383838"/>
<circle cx="248.30" cy="316.00" r="1.9" fill="#383838"/>
<circle cx="251.40" cy="318.40" r="1.9" fill="#383838"/>
<circle cx="254.40" cy="314.50" r="1.9" fill="#383838"/>
<circle cx="256.30" cy="319.00" r="1.9" fill="#383838"/>
<circle cx="260.00" cy="314.70" r="1.9" fill="#383838"/>
<circle cx="262.40" cy="318.40" r="1.9" fill="#383838"/>
<circle cx="265.50" cy="316.00" r="1.9" fill="#383838"/>
<circle cx="246.40" cy="323.30" r="1.9" fill="#383838"/>
<circle cx="249.90" cy="323.30" r="1.9" fill="#383838"/>
<circle cx="253.40" cy="323.30" r="1.9" fill="#383838"/>
<circle cx="256.90" cy="323.30" r="1.9" fill="#383838"/>
<circle cx="260.40" cy="323.30" r="1.9" fill="#383838"/>
<circle cx="263.90" cy="323.30" r="1.9" fill="#383838"/>
<circle cx="267.40" cy="323.30" r="1.9" fill="#383838"/>
<circle cx="248.50" cy="326.40" r="1.9" fill="#383838"/>
<circle cx="251.30" cy="326.40" r="1.9" fill="#383838"/>
<circle cx="254.10" cy="326.40" r="1.9" fill="#383838"/>
<circle cx="256.90" cy="326.40" r="1.9" fill="#383838"/>
<circle cx="259.70" cy="326.40" r="1.9" fill="#383838"/>
<circle cx="262.50" cy="326.40" r="1.9" fill="#383838"/>
<circle cx="265.30" cy="326.40" r="1.9" fill="#383838"/>
<circle cx="248.90" cy="330.70" r="1.9" fill="#383838"/>
<circle cx="265.50" cy="330.70" r="1.9" fill="#383838"/>
<circle cx="254.40" cy="334.60" r="1.9" fill="#383838"/>
<circle cx="260.00" cy="336.20" r="1.9" fill="#383838"/>
<circle cx="257.10" cy="343.20" r="1.9" fill="#383838"/>
<circle cx="305.50" cy="270.30" r="1.9" fill="#383838"/>
<circle cx="300.50" cy="278.00" r="1.9" fill="#383838"/>
<circle cx="305.50" cy="278.60" r="1.9" fill="#383838"/>
<circle cx="310.70" cy="278.00" r="1.9" fill="#383838"/>
<circle cx="297.40" cy="281.10" r="1.9" fill="#383838"/>
<circle cx="313.50" cy="283.10" r="1.9" fill="#383838"/>
<circle cx="302.70" cy="285.30" r="1.9" fill="#383838"/>
<circle cx="308.20" cy="286.40" r="1.9" fill="#383838"/>
<circle cx="295.80" cy="289.01" r="1.9" fill="#383838"/>
<circle cx="299.10" cy="289.41" r="1.9" fill="#383838"/>
<circle cx="302.40" cy="289.80" r="1.9" fill="#383838"/>
<circle cx="305.70" cy="290.20" r="1.9" fill="#383838"/>
<circle cx="309.00" cy="289.80" r="1.9" fill="#383838"/>
<circle cx="312.30" cy="289.41" r="1.9" fill="#383838"/>
<circle cx="315.60" cy="289.01" r="1.9" fill="#383838"/>
<circle cx="294.50" cy="294.38" r="1.9" fill="#383838"/>
<circle cx="297.30" cy="295.36" r="1.9" fill="#383838"/>
<circle cx="300.10" cy="296.34" r="1.9" fill="#383838"/>
<circle cx="302.90" cy="297.32" r="1.9" fill="#383838"/>
<circle cx="305.70" cy="298.30" r="1.9" fill="#383838"/>
<circle cx="308.50" cy="297.32" r="1.9" fill="#383838"/>
<circle cx="311.30" cy="296.34" r="1.9" fill="#383838"/>
<circle cx="314.10" cy="295.36" r="1.9" fill="#383838"/>
<circle cx="316.90" cy="294.38" r="1.9" fill="#383838"/>
<circle cx="294.50" cy="299.29" r="1.9" fill="#383838"/>
<circle cx="297.30" cy="300.02" r="1.9" fill="#383838"/>
<circle cx="300.10" cy="300.74" r="1.9" fill="#383838"/>
<circle cx="302.90" cy="301.47" r="1.9" fill="#383838"/>
<circle cx="305.70" cy="302.20" r="1.9" fill="#383838"/>
<circle cx="308.50" cy="301.47" r="1.9" fill="#383838"/>
<circle cx="311.30" cy="300.74" r="1.9" fill="#383838"/>
<circle cx="314.10" cy="300.02" r="1.9" fill="#383838"/>
<circle cx="316.90" cy="299.29" r="1.9" fill="#383838"/>
<circle cx="294.50" cy="309.18" r="1.9" fill="#383838"/>
<circle cx="297.30" cy="308.29" r="1.9" fill="#383838"/>
<circle cx="300.10" cy="307.39" r="1.9" fill="#383838"/>
<circle cx="302.90" cy="306.50" r="1.9" fill="#383838"/>
<circle cx="305.70" cy="305.60" r="1.9" fill="#383838"/>
<circle cx="308.50" cy="306.50" r="1.9" fill="#383838"/>
<circle cx="311.30" cy="307.39" r="1.9" fill="#383838"/>
<circle cx="314.10" cy="308.29" r="1.9" fill="#383838"/>
<circle cx="316.90" cy="309.18" r="1.9" fill="#383838"/>
<circle cx="295.30" cy="310.36" r="1.9" fill="#383838"/>
<circle cx="297.90" cy="311.27" r="1.9" fill="#383838"/>
<circle cx="300.50" cy="312.18" r="1.9" fill="#383838"/>
<circle cx="303.10" cy="313.09" r="1.9" fill="#383838"/>
<circle cx="305.70" cy="314.00" r="1.9" fill="#383838"/>
<circle cx="308.30" cy="313.09" r="1.9" fill="#383838"/>
<circle cx="310.90" cy="312.18" r="1.9" fill="#383838"/>
<circle cx="313.50" cy="311.27" r="1.9" fill="#383838"/>
<circle cx="316.10" cy="310.36" r="1.9" fill="#383838"/>
<circle cx="295.30" cy="318.10" r="1.9" fill="#383838"/>
<circle cx="297.90" cy="317.43" r="1.9" fill="#383838"/>
<circle cx="300.50" cy="316.75" r="1.9" fill="#383838"/>
<circle cx="303.10" cy="316.08" r="1.9" fill="#383838"/>
<circle cx="305.70" cy="315.40" r="1.9" fill="#383838"/>
<circle cx="308.30" cy="316.08" r="1.9" fill="#383838"/>
<circle cx="310.90" cy="316.75" r="1.9" fill="#383838"/>
<circle cx="313.50" cy="317.43" r="1.9" fill="#383838"/>
<circle cx="316.10" cy="318.10" r="1.9" fill="#383838"/>
<circle cx="300.40" cy="323.60" r="1.9" fill="#383838"/>
<circle cx="305.60" cy="324.40" r="1.9" fill="#383838"/>
<circle cx="310.40" cy="323.20" r="1.9" fill="#383838"/>
<circle cx="300.40" cy="326.80" r="1.9" fill="#383838"/>
<circle cx="310.60" cy="326.80" r="1.9" fill="#383838"/>
<circle cx="305.60" cy="330.70" r="1.9" fill="#383838"/>
<circle cx="351.90" cy="237.40" r="1.9" fill="#383838"/>
<circle cx="346.40" cy="247.00" r="1.9" fill="#383838"/>
<circle cx="351.90" cy="248.50" r="1.9" fill="#383838"/>
<circle cx="357.10" cy="245.50" r="1.9" fill="#383838"/>
<circle cx="346.40" cy="253.40" r="1.9" fill="#383838"/>
<circle cx="341.10" cy="258.80" r="1.9" fill="#383838"/>
<circle cx="346.40" cy="261.20" r="1.9" fill="#383838"/>
<circle cx="351.90" cy="257.90" r="1.9" fill="#383838"/>
<circle cx="357.10" cy="256.50" r="1.9" fill="#383838"/>
<circle cx="357.10" cy="260.10" r="1.9" fill="#383838"/>
<circle cx="362.30" cy="258.40" r="1.9" fill="#383838"/>
<circle cx="351.90" cy="263.60" r="1.9" fill="#383838"/>
<circle cx="346.40" cy="262.50" r="1.9" fill="#383838"/>
<circle cx="352.00" cy="263.90" r="1.9" fill="#383838"/>
<circle cx="341.00" cy="270.90" r="1.9" fill="#383838"/>
<circle cx="346.40" cy="268.50" r="1.9" fill="#383838"/>
<circle cx="351.70" cy="270.20" r="1.9" fill="#383838"/>
<circle cx="357.10" cy="269.50" r="1.9" fill="#383838"/>
<circle cx="357.10" cy="271.80" r="1.9" fill="#383838"/>
<circle cx="362.20" cy="270.20" r="1.9" fill="#383838"/>
<circle cx="346.40" cy="274.10" r="1.9" fill="#383838"/>
<circle cx="352.00" cy="275.10" r="1.9" fill="#383838"/>
<circle cx="348.70" cy="278.00" r="1.9" fill="#383838"/>
<circle cx="352.40" cy="277.60" r="1.9" fill="#383838"/>
<circle cx="354.80" cy="278.60" r="1.9" fill="#383838"/>
<circle cx="343.10" cy="279.70" r="1.9" fill="#383838"/>
<circle cx="346.40" cy="280.70" r="1.9" fill="#383838"/>
<circle cx="349.60" cy="281.60" r="1.9" fill="#383838"/>
<circle cx="353.40" cy="281.20" r="1.9" fill="#383838"/>
<circle cx="357.10" cy="280.70" r="1.9" fill="#383838"/>
<circle cx="360.40" cy="278.40" r="1.9" fill="#383838"/>
<circle cx="340.70" cy="283.50" r="1.9" fill="#383838"/>
<circle cx="363.20" cy="284.00" r="1.9" fill="#383838"/>
<circle cx="344.90" cy="285.00" r="1.9" fill="#383838"/>
<circle cx="348.70" cy="285.80" r="1.9" fill="#383838"/>
<circle cx="351.50" cy="286.10" r="1.9" fill="#383838"/>
<circle cx="354.30" cy="285.80" r="1.9" fill="#383838"/>
<circle cx="358.00" cy="285.30" r="1.9" fill="#383838"/>
<circle cx="343.60" cy="288.50" r="1.9" fill="#383838"/>
<circle cx="347.00" cy="289.00" r="1.9" fill="#383838"/>
<circle cx="351.00" cy="289.20" r="1.9" fill="#383838"/>
<circle cx="355.00" cy="289.00" r="1.9" fill="#383838"/>
<circle cx="359.00" cy="288.50" r="1.9" fill="#383838"/>
<circle cx="343.10" cy="291.40" r="1.9" fill="#383838"/>
<circle cx="346.40" cy="292.40" r="1.9" fill="#383838"/>
<circle cx="349.60" cy="293.30" r="1.9" fill="#383838"/>
<circle cx="353.40" cy="292.80" r="1.9" fill="#383838"/>
<circle cx="357.10" cy="291.90" r="1.9" fill="#383838"/>
<circle cx="360.40" cy="291.00" r="1.9" fill="#383838"/>
<circle cx="343.60" cy="296.20" r="1.9" fill="#383838"/>
<circle cx="349.20" cy="299.00" r="1.9" fill="#383838"/>
<circle cx="354.50" cy="300.90" r="1.9" fill="#383838"/>
<circle cx="359.70" cy="297.10" r="1.9" fill="#383838"/>
<circle cx="340.70" cy="310.20" r="1.9" fill="#383838"/>
<circle cx="346.40" cy="311.20" r="1.9" fill="#383838"/>
<circle cx="346.40" cy="314.00" r="1.9" fill="#383838"/>
<circle cx="351.70" cy="312.60" r="1.9" fill="#383838"/>
<circle cx="357.10" cy="311.20" r="1.9" fill="#383838"/>
<circle cx="362.20" cy="309.60" r="1.9" fill="#383838"/>
<circle cx="351.70" cy="318.60" r="1.9" fill="#383838"/>
<circle cx="357.10" cy="318.60" r="1.9" fill="#383838"/>
<circle cx="340.60" cy="301.28" r="1.9" fill="#383838"/>
<circle cx="343.35" cy="302.71" r="1.9" fill="#383838"/>
<circle cx="346.10" cy="304.14" r="1.9" fill="#383838"/>
<circle cx="348.85" cy="305.57" r="1.9" fill="#383838"/>
<circle cx="351.60" cy="307.00" r="1.9" fill="#383838"/>
<circle cx="354.35" cy="305.57" r="1.9" fill="#383838"/>
<circle cx="357.10" cy="304.14" r="1.9" fill="#383838"/>
<circle cx="359.85" cy="302.71" r="1.9" fill="#383838"/>
<circle cx="362.60" cy="301.28" r="1.9" fill="#383838"/>
<circle cx="382.00" cy="241.50" r="1.9" fill="#383838"/>
<circle cx="387.40" cy="242.15" r="1.9" fill="#383838"/>
<circle cx="392.80" cy="242.80" r="1.9" fill="#383838"/>
<circle cx="398.20" cy="242.15" r="1.9" fill="#383838"/>
<circle cx="403.60" cy="241.50" r="1.9" fill="#383838"/>
<circle cx="382.40" cy="251.50" r="1.9" fill="#383838"/>
<circle cx="390.70" cy="251.50" r="1.9" fill="#383838"/>
<circle cx="395.80" cy="251.50" r="1.9" fill="#383838"/>
<circle cx="404.10" cy="251.50" r="1.9" fill="#383838"/>
<circle cx="387.60" cy="256.50" r="1.9" fill="#383838"/>
<circle cx="392.80" cy="256.50" r="1.9" fill="#383838"/>
<circle cx="398.00" cy="256.50" r="1.9" fill="#383838"/>
<circle cx="382.40" cy="261.50" r="1.9" fill="#383838"/>
<circle cx="404.10" cy="261.50" r="1.9" fill="#383838"/>
<circle cx="383.60" cy="263.70" r="1.9" fill="#383838"/>
<circle cx="388.20" cy="264.25" r="1.9" fill="#383838"/>
<circle cx="392.80" cy="264.80" r="1.9" fill="#383838"/>
<circle cx="397.40" cy="264.25" r="1.9" fill="#383838"/>
<circle cx="402.00" cy="263.70" r="1.9" fill="#383838"/>
<circle cx="383.55" cy="268.00" r="1.9" fill="#383838"/>
<circle cx="387.25" cy="268.00" r="1.9" fill="#383838"/>
<circle cx="390.95" cy="268.00" r="1.9" fill="#383838"/>
<circle cx="394.65" cy="268.00" r="1.9" fill="#383838"/>
<circle cx="398.35" cy="268.00" r="1.9" fill="#383838"/>
<circle cx="402.05" cy="268.00" r="1.9" fill="#383838"/>
<circle cx="382.30" cy="272.74" r="1.9" fill="#383838"/>
<circle cx="385.80" cy="273.16" r="1.9" fill="#383838"/>
<circle cx="389.30" cy="273.58" r="1.9" fill="#383838"/>
<circle cx="392.80" cy="274.00" r="1.9" fill="#383838"/>
<circle cx="396.30" cy="273.58" r="1.9" fill="#383838"/>
<circle cx="399.80" cy="273.16" r="1.9" fill="#383838"/>
<circle cx="403.30" cy="272.74" r="1.9" fill="#383838"/>
<circle cx="382.40" cy="278.20" r="1.9" fill="#383838"/>
<circle cx="386.40" cy="280.00" r="1.9" fill="#383838"/>
<circle cx="400.10" cy="278.00" r="1.9" fill="#383838"/>
<circle cx="403.60" cy="278.00" r="1.9" fill="#383838"/>
<circle cx="382.40" cy="283.00" r="1.9" fill="#383838"/>
<circle cx="388.00" cy="283.00" r="1.9" fill="#383838"/>
<circle cx="391.50" cy="283.00" r="1.9" fill="#383838"/>
<circle cx="395.00" cy="283.00" r="1.9" fill="#383838"/>
<circle cx="397.50" cy="283.00" r="1.9" fill="#383838"/>
<circle cx="404.00" cy="283.00" r="1.9" fill="#383838"/>
<circle cx="385.10" cy="289.00" r="1.9" fill="#383838"/>
<circle cx="393.20" cy="287.50" r="1.9" fill="#383838"/>
<circle cx="398.40" cy="286.50" r="1.9" fill="#383838"/>
<circle cx="404.10" cy="285.50" r="1.9" fill="#383838"/>
<circle cx="390.70" cy="293.50" r="1.9" fill="#383838"/>
<circle cx="395.80" cy="295.00" r="1.9" fill="#383838"/>
<circle cx="401.00" cy="292.80" r="1.9" fill="#383838"/>
<circle cx="390.30" cy="304.50" r="1.9" fill="#383838"/>
<circle cx="395.80" cy="302.70" r="1.9" fill="#383838"/>
<circle cx="443.50" cy="246.70" r="1.9" fill="#383838"/>
<circle cx="437.70" cy="251.00" r="1.9" fill="#383838"/>
<circle cx="435.20" cy="254.40" r="1.9" fill="#383838"/>
<circle cx="445.80" cy="253.90" r="1.9" fill="#383838"/>
<circle cx="440.60" cy="257.10" r="1.9" fill="#383838"/>
<circle cx="429.80" cy="259.60" r="1.9" fill="#383838"/>
<circle cx="435.20" cy="260.00" r="1.9" fill="#383838"/>
<circle cx="445.80" cy="260.80" r="1.9" fill="#383838"/>
<circle cx="451.30" cy="259.60" r="1.9" fill="#383838"/>
<circle cx="431.80" cy="264.30" r="1.9" fill="#383838"/>
<circle cx="449.00" cy="264.70" r="1.9" fill="#383838"/>
<circle cx="437.00" cy="263.30" r="1.9" fill="#383838"/>
<circle cx="440.50" cy="263.30" r="1.9" fill="#383838"/>
<circle cx="444.00" cy="263.30" r="1.9" fill="#383838"/>
<circle cx="435.25" cy="267.00" r="1.9" fill="#383838"/>
<circle cx="438.75" cy="267.00" r="1.9" fill="#383838"/>
<circle cx="442.25" cy="267.00" r="1.9" fill="#383838"/>
<circle cx="445.75" cy="267.00" r="1.9" fill="#383838"/>
<circle cx="431.50" cy="272.80" r="1.9" fill="#383838"/>
<circle cx="434.50" cy="272.80" r="1.9" fill="#383838"/>
<circle cx="437.50" cy="272.80" r="1.9" fill="#383838"/>
<circle cx="440.50" cy="272.80" r="1.9" fill="#383838"/>
<circle cx="443.50" cy="272.80" r="1.9" fill="#383838"/>
<circle cx="446.50" cy="272.80" r="1.9" fill="#383838"/>
<circle cx="449.50" cy="272.80" r="1.9" fill="#383838"/>
<circle cx="431.80" cy="276.20" r="1.9" fill="#383838"/>
<circle cx="436.70" cy="276.20" r="1.9" fill="#383838"/>
<circle cx="441.10" cy="276.20" r="1.9" fill="#383838"/>
<circle cx="445.10" cy="276.20" r="1.9" fill="#383838"/>
<circle cx="449.50" cy="276.20" r="1.9" fill="#383838"/>
<circle cx="436.50" cy="279.30" r="1.9" fill="#383838"/>
<circle cx="440.50" cy="279.30" r="1.9" fill="#383838"/>
<circle cx="444.50" cy="279.30" r="1.9" fill="#383838"/>
<circle cx="434.70" cy="284.40" r="1.9" fill="#383838"/>
<circle cx="440.20" cy="287.40" r="1.9" fill="#383838"/>
<circle cx="445.80" cy="287.20" r="1.9" fill="#383838"/>
<circle cx="440.40" cy="294.60" r="1.9" fill="#383838"/>
<circle cx="440.50" cy="305.80" r="1.9" fill="#383838"/>
<circle cx="490.70" cy="246.10" r="1.9" fill="#383838"/>
<circle cx="479.70" cy="248.40" r="1.9" fill="#383838"/>
<circle cx="485.40" cy="248.40" r="1.9" fill="#383838"/>
<circle cx="477.00" cy="253.30" r="1.9" fill="#383838"/>
<circle cx="482.70" cy="254.00" r="1.9" fill="#383838"/>
<circle cx="488.10" cy="253.60" r="1.9" fill="#383838"/>
<circle cx="490.50" cy="255.00" r="1.9" fill="#383838"/>
<circle cx="493.50" cy="253.00" r="1.9" fill="#383838"/>
<circle cx="479.70" cy="257.90" r="1.9" fill="#383838"/>
<circle cx="485.40" cy="259.70" r="1.9" fill="#383838"/>
<circle cx="479.70" cy="261.10" r="1.9" fill="#383838"/>
<circle cx="477.30" cy="266.50" r="1.9" fill="#383838"/>
<circle cx="485.40" cy="265.80" r="1.9" fill="#383838"/>
<circle cx="490.50" cy="264.80" r="1.9" fill="#383838"/>
<circle cx="482.70" cy="269.00" r="1.9" fill="#383838"/>
<circle cx="493.30" cy="268.70" r="1.9" fill="#383838"/>
<circle cx="476.80" cy="274.40" r="1.9" fill="#383838"/>
<circle cx="480.20" cy="276.40" r="1.9" fill="#383838"/>
<circle cx="482.70" cy="274.00" r="1.9" fill="#383838"/>
<circle cx="487.60" cy="273.50" r="1.9" fill="#383838"/>
<circle cx="490.50" cy="274.40" r="1.9" fill="#383838"/>
<circle cx="494.00" cy="274.40" r="1.9" fill="#383838"/>
<circle cx="481.70" cy="277.90" r="1.9" fill="#383838"/>
<circle cx="485.60" cy="277.90" r="1.9" fill="#383838"/>
<circle cx="487.30" cy="284.80" r="1.9" fill="#383838"/>
<circle cx="480.20" cy="291.50" r="1.9" fill="#383838"/>
<circle cx="485.40" cy="291.20" r="1.9" fill="#383838"/>
<circle cx="490.50" cy="292.00" r="1.9" fill="#383838"/>
<circle cx="485.30" cy="297.00" r="1.9" fill="#383838"/>
<circle cx="485.30" cy="310.00" r="1.9" fill="#383838"/>
<line x1="242.60" y1="311.00" x2="271.60" y2="311.00" stroke="#C62830" stroke-width="2.1"/>
<text x="276.40" y="314.00" font-size="8.6" style="stroke-width:0.12px;fill:#2a2a2a;stroke:#2a2a2a">5</text>
<line x1="291.10" y1="302.90" x2="319.80" y2="302.90" stroke="#C62830" stroke-width="2.1"/>
<text x="324.60" y="305.90" font-size="8.6" style="stroke-width:0.12px;fill:#2a2a2a;stroke:#2a2a2a">8</text>
<line x1="336.80" y1="287.70" x2="366.30" y2="287.70" stroke="#C62830" stroke-width="2.1"/>
<text x="368.40" y="290.70" font-size="8.6" style="stroke-width:0.12px;fill:#2a2a2a;stroke:#2a2a2a">18</text>
<line x1="379.00" y1="271.00" x2="407.50" y2="271.00" stroke="#C62830" stroke-width="2.1"/>
<text x="409.00" y="274.00" font-size="8.6" style="stroke-width:0.12px;fill:#2a2a2a;stroke:#2a2a2a">46</text>
<line x1="425.90" y1="271.00" x2="454.90" y2="271.00" stroke="#C62830" stroke-width="2.1"/>
<text x="456.60" y="274.00" font-size="8.6" style="stroke-width:0.12px;fill:#2a2a2a;stroke:#2a2a2a">40</text>
<line x1="470.70" y1="270.70" x2="499.60" y2="270.70" stroke="#C62830" stroke-width="2.1"/>
<text x="502.90" y="273.70" font-size="8.6" style="stroke-width:0.12px;fill:#2a2a2a;stroke:#2a2a2a">44</text>
</svg></body></html>
